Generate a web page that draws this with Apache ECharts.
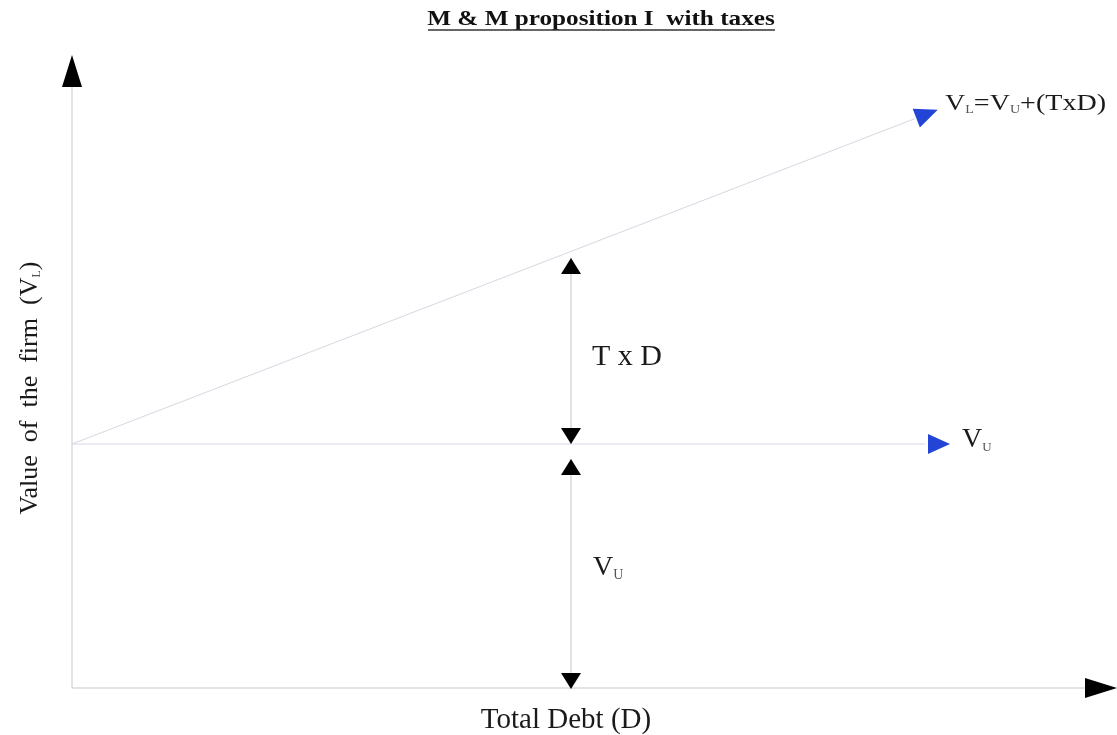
<!DOCTYPE html>
<html><head><meta charset="utf-8">
<script src="https://cdn.jsdelivr.net/npm/echarts@6/dist/echarts.min.js"></script>
<style>html,body{margin:0;padding:0;background:#fff}#c{width:1117px;height:735px}</style>
</head><body><div id="c"></div>
<script>
// ---- data (diagram units) ----
const xAxisMax = 10.45;
const yAxisMax = 6.33;
const xAxisEnd = 10.13;          // end of drawn x axis line
const yAxisEnd = 6.01;           // end of drawn y axis line
const vuValue = 2.44;            // value of unlevered firm V_U
const taxSlope = 0.386;          // T (slope of V_L line)
const vuLineEnd = 8.53;          // D where V_U line ends
const vlLineEnd = 8.43;          // D where V_L line ends
const gapDebt = 4.99;            // D where the brackets are drawn
const txdBracket = [4.30, 2.44]; // T x D bracket (top, bottom)
const vuBracket = [2.29, 0];     // V_U bracket (top, bottom)
const bracketHeads = [[4.22, 'up'], [2.52, 'down'], [2.21, 'up'], [0.07, 'down']];
const axisHeadX = [10.29, 0];
const axisHeadY = [0, 6.17];
const vlHeadD = 8.55;
const vuHeadD = 8.67;

const FONT = "'Liberation Serif','Times New Roman',serif";
const vl = d => vuValue + taxSlope * d;

const chart = echarts.init(document.getElementById('c'), null, {renderer: 'canvas'});

const rot = {up: 0, down: 180, right: -90};
const angle = Math.atan(taxSlope) * 180 / Math.PI;

const blackHeads = [
  {value: axisHeadX, symbolSize: [20, 32], symbolRotate: rot.right},
  {value: axisHeadY, symbolSize: [20, 32], symbolRotate: rot.up}
].concat(bracketHeads.map(h => ({value: [gapDebt, h[0]], symbolSize: [20, 16], symbolRotate: rot[h[1]]})));

const blueHeads = [
  {value: [vlHeadD, vl(vlHeadD)], symbolSize: [20, 23], symbolRotate: -90 + angle},
  {value: [vuHeadD, vuValue], symbolSize: [20, 22], symbolRotate: rot.right}
];

function seg(data, color) {
  return {type: 'line', data: data, showSymbol: false, silent: true, clip: false, z: 1,
          lineStyle: {color: color, width: 1}, animation: false};
}

const option = {
  backgroundColor: '#fff',
  animation: false,
  grid: {left: 72, right: 0, top: 55, bottom: 47},
  xAxis: {type: 'value', min: 0, max: xAxisMax, show: false},
  yAxis: {type: 'value', min: 0, max: yAxisMax, show: false},
  series: [
    seg([[0, 0], [xAxisEnd, 0]], '#c8c8c8'),
    seg([[0, 0], [0, yAxisEnd]], '#c8c8c8'),
    seg([[0, vuValue], [vuLineEnd, vuValue]], '#d6d8e2'),
    seg([[0, vl(0)], [vlLineEnd, vl(vlLineEnd)]], '#d6d8e2'),
    seg([[gapDebt, txdBracket[0]], [gapDebt, txdBracket[1]]], '#c4c4c4'),
    seg([[gapDebt, vuBracket[0]], [gapDebt, vuBracket[1]]], '#c4c4c4'),
    {type: 'scatter', symbol: 'triangle', data: blackHeads, clip: false, silent: true, z: 5,
     itemStyle: {color: '#000', opacity: 1}, animation: false},
    {type: 'scatter', symbol: 'triangle', data: blueHeads, clip: false, silent: true, z: 5,
     itemStyle: {color: '#2345d6', opacity: 1}, animation: false}
  ],
  graphic: [
    {type: 'text', x: 601, y: 20, scaleX: 1.2,
     style: {text: 'M & M proposition I  with taxes', font: 'bold 21px ' + FONT, fill: '#111',
             align: 'center', verticalAlign: 'middle'}},
    {type: 'line', shape: {x1: 428, y1: 30, x2: 775, y2: 30}, style: {stroke: '#333', lineWidth: 1.5}},
    {type: 'text', x: 566, y: 720,
     style: {text: 'Total Debt (D)', font: '29px ' + FONT, fill: '#1a1a1a', align: 'center', verticalAlign: 'middle'}},
    {type: 'text', x: 30, y: 388, rotation: Math.PI / 2,
     style: {text: '{m|Value  of  the  firm  (V}{s|L}{m|)}', align: 'center', verticalAlign: 'middle',
             rich: {m: {font: '26px ' + FONT, fill: '#1a1a1a'},
                    s: {font: '12px ' + FONT, fill: '#555', verticalAlign: 'bottom'}}}},
    {type: 'text', x: 592, y: 357,
     style: {text: 'T x D', font: '30px ' + FONT, fill: '#1a1a1a', align: 'left', verticalAlign: 'middle'}},
    {type: 'text', x: 593, y: 568,
     style: {text: '{m|V}{s|U}', align: 'left', verticalAlign: 'middle',
             rich: {m: {font: '28px ' + FONT, fill: '#1a1a1a'},
                    s: {font: '14px ' + FONT, fill: '#555', verticalAlign: 'bottom'}}}},
    {type: 'text', x: 962, y: 440,
     style: {text: '{m|V}{s|U}', align: 'left', verticalAlign: 'middle',
             rich: {m: {font: '28px ' + FONT, fill: '#1a1a1a'},
                    s: {font: '13px ' + FONT, fill: '#555', verticalAlign: 'bottom'}}}},
    {type: 'text', x: 945, y: 104, scaleX: 1.17,
     style: {text: '{m|V}{s|L}{m|=V}{s|U}{m|+(TxD)}', align: 'left', verticalAlign: 'middle',
             rich: {m: {font: '24px ' + FONT, fill: '#1a1a1a'},
                    s: {font: '12px ' + FONT, fill: '#555', verticalAlign: 'bottom'}}}}
  ]
};
chart.setOption(option);
</script></body></html>
